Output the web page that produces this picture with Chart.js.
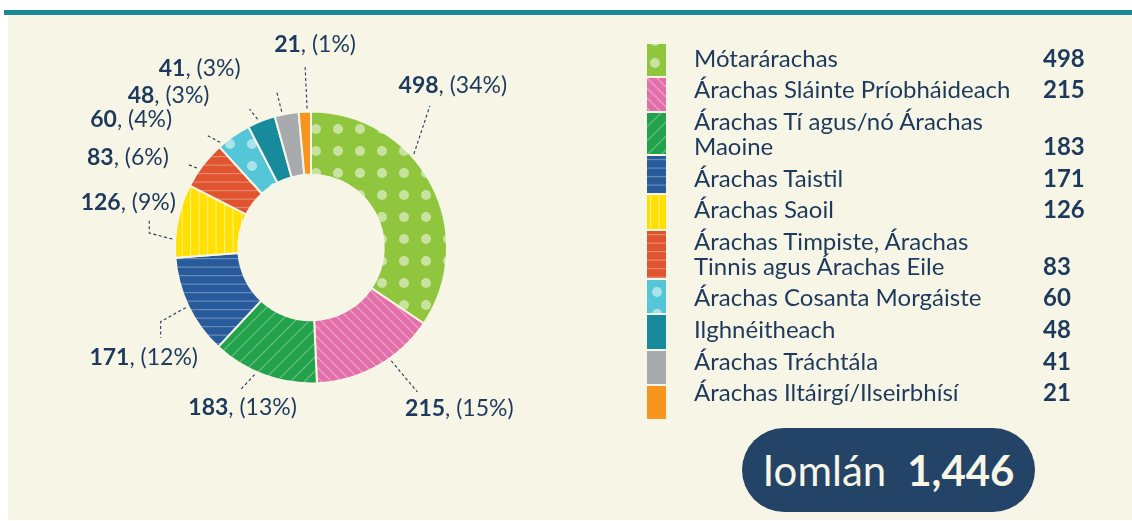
<!DOCTYPE html>
<html lang="ga">
<head>
    <meta charset="UTF-8">
    <title>Árachas</title>
    <script src="https://cdn.jsdelivr.net/npm/chart.js"></script>
    <style>
        body {
            margin: 0;
            width: 1132px;
            height: 521px;
            position: relative;
            overflow: hidden;
            background: #ffffff;
            font-family: Lato, 'Noto Sans', sans-serif;
            color: #1d3a5c;
        }
        .top-rule {
            position: absolute;
            left: 4px; right: 0; top: 10px; height: 5px;
            background: #1b8a98;
        }
        .panel {
            position: absolute;
            left: 8px; right: 0; top: 15px; height: 505px;
            background: #f7f5e6;
        }
        #donut {
            position: absolute;
            left: 0; top: 0;
        }
        #swatches {
            position: absolute;
            left: 647px; top: 44px;
            width: 19px;
        }
        #swatches canvas {
            display: block;
            margin-bottom: 2px;
        }
        #legend {
            position: absolute;
            left: 694px; top: 41.5px;
            font-size: 24px;
            line-height: 25px;
        }
        .row {
            display: grid;
            grid-template-columns: 349px 60px;
            align-items: end;
            padding: 3.3px 0;
            white-space: pre-line;
        }
        .row .val { font-weight: 700; }
        .total {
            position: absolute;
            left: 742px; top: 428px;
            width: 293px; height: 84px;
            border-radius: 42px;
            background: #234466;
            color: #f7f5e6;
            font-size: 42px;
            display: flex;
            align-items: center;
            justify-content: center;
            gap: 21px;
        }
        .total b { font-weight: 700; }
    </style>
</head>
<body>
    <div class="top-rule"></div>
    <div class="panel"></div>
    <canvas id="donut" width="1132" height="521"></canvas>
    <div id="swatches"></div>
    <div id="legend"></div>
    <div class="total"><span>Iomlán</span><b id="total"></b></div>

    <script>
        // data
        const categories = [
            'Mótarárachas',
            'Árachas Sláinte Príobháideach',
            'Árachas Tí agus/nó Árachas\nMaoine',
            'Árachas Taistil',
            'Árachas Saoil',
            'Árachas Timpiste, Árachas\nTinnis agus Árachas Eile',
            'Árachas Cosanta Morgáiste',
            'Ilghnéitheach',
            'Árachas Tráchtála',
            'Árachas Iltáirgí/Ilseirbhísí'
        ];
        const counts = [498, 215, 183, 171, 126, 83, 60, 48, 41, 21];

        const navy = '#1d3a5c';
        const cream = '#f7f5e6';

        // fills: base colour + texture
        const fills = [
            { bg: '#8fc63e', kind: 'dots', fg: 'rgba(255,255,255,0.5)', ox: 8, oy: 19 },
            { bg: '#e26fa9', kind: 'back', fg: 'rgba(255,255,255,0.35)', size: 10 },
            { bg: '#22a24a', kind: 'fwd', fg: 'rgba(255,255,255,0.3)', size: 14 },
            { bg: '#285b9b', kind: 'hlines', fg: 'rgba(255,255,255,0.3)' },
            { bg: '#ffe000', kind: 'vlines', fg: 'rgba(255,255,255,0.45)' },
            { bg: '#e05430', kind: 'hlines', fg: 'rgba(255,255,255,0.3)' },
            { bg: '#55c6d8', kind: 'dots', fg: 'rgba(255,255,255,0.5)', ox: 10, oy: 12 },
            { bg: '#178b9b', kind: 'solid' },
            { bg: '#a8aaad', kind: 'solid' },
            { bg: '#f7941d', kind: 'solid' }
        ];

        // leader lines: where on the slice they start, bends and text offset
        const callouts = [
            { at: 0.385, path: [[16, -48]], text: [39, -68] },
            { at: 0.387, path: [[26, 31]], text: [68, 48] },
            { at: 0.58, path: [[-14, 15]], text: [-12, 33] },
            { at: 0.5, path: [[-25, 14], [-25, 30]], text: [-42, 50] },
            { at: 0.25, path: [[-23, -6], [-23, -19]], text: [-44, -36] },
            { at: 0.38, path: [[-10, -4]], text: [-69, -10] },
            { at: 0.1, path: [[-13, -7]], text: [-89, -23] },
            { at: 0.4, path: [[-8, -10]], text: [-89, -24] },
            { at: 0.32, path: [[-5, -20]], text: [-82, -43] },
            { at: 0.69, path: [[-2, -43]], text: [8, -64] }
        ];

        const swatchHeights = [32, 33, 41, 37, 34, 47, 33, 34, 33, 33];

        const total = counts.reduce((a, b) => a + b, 0);

        function makeTile(f) {
            let w = 17, h = 17;
            if (f.kind === 'dots') { w = h = 22; }
            if (f.kind === 'back' || f.kind === 'fwd') { w = h = f.size; }
            const c = document.createElement('canvas');
            c.width = w; c.height = h;
            const g = c.getContext('2d');
            g.fillStyle = f.bg;
            g.fillRect(0, 0, w, h);
            g.fillStyle = f.fg;
            g.strokeStyle = f.fg;
            g.lineWidth = 1.3;
            if (f.kind === 'dots') {
                for (const dx of [-22, 0, 22]) {
                    for (const dy of [-22, 0, 22]) {
                        g.beginPath();
                        g.arc(f.ox + dx, f.oy + dy, 5, 0, Math.PI * 2);
                        g.fill();
                    }
                }
            } else if (f.kind === 'back') {
                g.beginPath();
                for (const k of [-1, 0, 1]) {
                    g.moveTo(k * w, 0);
                    g.lineTo(k * w + w, h);
                }
                g.stroke();
            } else if (f.kind === 'fwd') {
                g.beginPath();
                for (const k of [-1, 0, 1]) {
                    g.moveTo(k * w, h);
                    g.lineTo(k * w + w, 0);
                }
                g.stroke();
            } else if (f.kind === 'hlines') {
                g.fillRect(0, 3, w, 1.2);
                g.fillRect(0, 11.5, w, 1.2);
            } else if (f.kind === 'vlines') {
                g.fillRect(3, 0, 1.2, h);
                g.fillRect(11.5, 0, 1.2, h);
            }
            return c;
        }

        const scratch = document.createElement('canvas').getContext('2d');
        const patterns = fills.map(f => f.kind === 'solid' ? f.bg : scratch.createPattern(makeTile(f), 'repeat'));

        // legend
        const swatchBox = document.getElementById('swatches');
        const legend = document.getElementById('legend');
        categories.forEach((name, i) => {
            const sw = document.createElement('canvas');
            sw.width = 19;
            sw.height = swatchHeights[i];
            const g = sw.getContext('2d');
            g.fillStyle = patterns[i];
            g.fillRect(0, 0, sw.width, sw.height);
            swatchBox.appendChild(sw);

            const row = document.createElement('div');
            row.className = 'row';
            row.innerHTML = `<span>${name}</span><span class="val">${counts[i]}</span>`;
            legend.appendChild(row);
        });
        document.getElementById('total').textContent = total.toLocaleString('en-US');

        const labelFont = 23;
        const calloutPlugin = {
            id: 'callouts',
            afterDatasetsDraw(chart) {
                const ctx = chart.ctx;
                const meta = chart.getDatasetMeta(0);
                meta.data.forEach((arc, i) => {
                    const c = callouts[i];
                    const p = arc.getProps(['x', 'y', 'startAngle', 'endAngle', 'outerRadius'], true);
                    const a = p.startAngle + (p.endAngle - p.startAngle) * c.at;
                    const sx = p.x + Math.cos(a) * (p.outerRadius + 3);
                    const sy = p.y + Math.sin(a) * (p.outerRadius + 3);

                    ctx.save();
                    ctx.strokeStyle = navy;
                    ctx.lineWidth = 1.1;
                    ctx.setLineDash([3, 2.5]);
                    ctx.beginPath();
                    ctx.moveTo(sx, sy);
                    c.path.forEach(([dx, dy]) => ctx.lineTo(sx + dx, sy + dy));
                    ctx.stroke();

                    const pct = Math.round(counts[i] / total * 100);
                    const bold = String(counts[i]);
                    const rest = `, (${pct}%)`;
                    ctx.textBaseline = 'middle';
                    ctx.fillStyle = navy;
                    ctx.font = `bold ${labelFont}px Lato`;
                    const wb = ctx.measureText(bold).width;
                    ctx.font = `${labelFont}px Lato`;
                    const wr = ctx.measureText(rest).width;
                    const tx = sx + c.text[0] - (wb + wr) / 2;
                    const ty = sy + c.text[1];
                    ctx.font = `bold ${labelFont}px Lato`;
                    ctx.fillText(bold, tx, ty);
                    ctx.font = `${labelFont}px Lato`;
                    ctx.fillText(rest, tx + wb, ty);
                    ctx.restore();
                });
            }
        };

        new Chart(document.getElementById('donut'), {
            type: 'doughnut',
            data: {
                labels: categories,
                datasets: [{
                    data: counts,
                    backgroundColor: patterns,
                    borderColor: cream,
                    borderWidth: 2,
                    hoverOffset: 0,
                    offset: 0
                }]
            },
            options: {
                responsive: false,
                animation: false,
                events: [],
                cutout: '53.5%',
                layout: {
                    padding: { left: 174, right: 684, top: 110.5, bottom: 136.5 }
                },
                plugins: {
                    legend: { display: false },
                    tooltip: { enabled: false }
                }
            },
            plugins: [calloutPlugin]
        });
    </script>
</body>
</html>
